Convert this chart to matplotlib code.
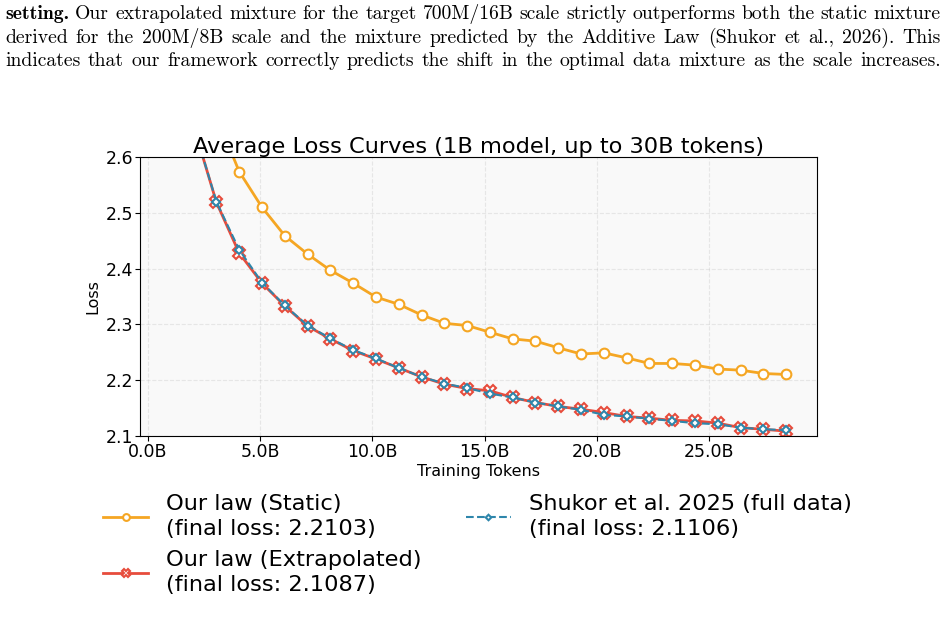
import numpy as np
import matplotlib.pyplot as plt
from matplotlib.ticker import FuncFormatter

# -------------------------------
# Data (loss every ~1.016B tokens)
# -------------------------------
tokens_b = np.arange(1, 29) * 1.016

loss_static = [3.40, 2.95, 2.674, 2.574, 2.510, 2.459, 2.426, 2.397, 2.374, 2.349,
               2.336, 2.317, 2.302, 2.298, 2.286, 2.274, 2.270, 2.258, 2.247, 2.249,
               2.240, 2.230, 2.230, 2.227, 2.220, 2.218, 2.212, 2.2103]
loss_extrap = [3.00, 2.656, 2.519, 2.428, 2.374, 2.333, 2.297, 2.274, 2.253, 2.238,
               2.222, 2.206, 2.193, 2.185, 2.181, 2.169, 2.160, 2.153, 2.148, 2.142,
               2.135, 2.132, 2.128, 2.127, 2.123, 2.115, 2.112, 2.1087]
loss_shukor = [3.00, 2.656, 2.520, 2.434, 2.375, 2.334, 2.298, 2.275, 2.254, 2.239,
               2.222, 2.206, 2.194, 2.186, 2.176, 2.169, 2.160, 2.153, 2.147, 2.138,
               2.135, 2.131, 2.127, 2.123, 2.121, 2.115, 2.112, 2.1106]

caption = [
    "setting. Our extrapolated mixture for the target 700M/16B scale strictly outperforms both the static mixture",
    "derived for the 200M/8B scale and the mixture predicted by the Additive Law (Shukor et al., 2026). This",
    "indicates that our framework correctly predicts the shift in the optimal data mixture as the scale increases.",
]

c_orange = '#f5a623'
c_red = '#e74c3c'
c_blue = '#2e86ab'

fig = plt.figure(figsize=(9.47, 6.39), dpi=100)

# -------------------------------
# Caption text (justified lines)
# -------------------------------
W, H = 947, 639
renderer = fig.canvas.get_renderer()
x_left, x_right = 5, 941
baselines = [19, 43, 66]
cap_size = 14.2
for li, line in enumerate(caption):
    words = line.split(" ")
    widths = []
    for wi, w in enumerate(words):
        fam = 'cmb10' if (li == 0 and wi == 0) else 'cmr10'
        t = fig.text(0, 0, w, fontsize=cap_size, family=fam)
        widths.append(t.get_window_extent(renderer).width)
        t.remove()
    gap = (x_right - x_left - sum(widths)) / (len(words) - 1)
    x = x_left
    for wi, w in enumerate(words):
        fam = 'cmb10' if (li == 0 and wi == 0) else 'cmr10'
        fig.text(x / W, 1 - baselines[li] / H, w, fontsize=cap_size, family=fam,
                 va='baseline', ha='left')
        x += widths[wi] + gap

# -------------------------------
# Plot
# -------------------------------
ax = fig.add_axes([140 / W, 1 - 436 / H, (817 - 140) / W, (436 - 157) / H])
ax.set_facecolor('#f9f9f9')

ax.plot(tokens_b, loss_static, color=c_orange, lw=2, marker='o', ms=7,
        mfc='white', mec=c_orange, mew=1.5,
        label='Our law (Static)\n(final loss: 2.2103)')
ax.plot(tokens_b, loss_extrap, color=c_red, lw=2, marker='X', ms=9,
        mfc='white', mec=c_red, mew=1.5,
        label='Our law (Extrapolated)\n(final loss: 2.1087)')
ax.plot(tokens_b, loss_shukor, color=c_blue, lw=1.5, ls='--', marker='D', ms=4,
        mfc='white', mec=c_blue, mew=1.5,
        label='Shukor et al. 2025 (full data)\n(final loss: 2.1106)')

ax.set_ylim(2.1, 2.6)
ax.set_xticks([0, 5, 10, 15, 20, 25])
ax.xaxis.set_major_formatter(FuncFormatter(lambda v, p: f"{v:.1f}B"))
ax.tick_params(labelsize=12.5, pad=1.5)
ax.grid(True, ls='--', alpha=0.25)
ax.set_title("Average Loss Curves (1B model, up to 30B tokens)", fontsize=16.2, pad=2)
ax.set_xlabel("Training Tokens", fontsize=11.5, labelpad=2)
ax.set_ylabel("Loss", fontsize=11.5, labelpad=4)

leg = ax.legend(loc='upper left', bbox_to_anchor=(83 / W, 1 - 474 / H),
                bbox_transform=fig.transFigure, ncol=2, frameon=False,
                fontsize=16.2, markerscale=0.7, columnspacing=1.95,
                handlelength=2.0, labelspacing=0.5)
for t in leg.get_texts():
    t.set_linespacing(1.3)

fig.savefig("out.png", dpi=100)
